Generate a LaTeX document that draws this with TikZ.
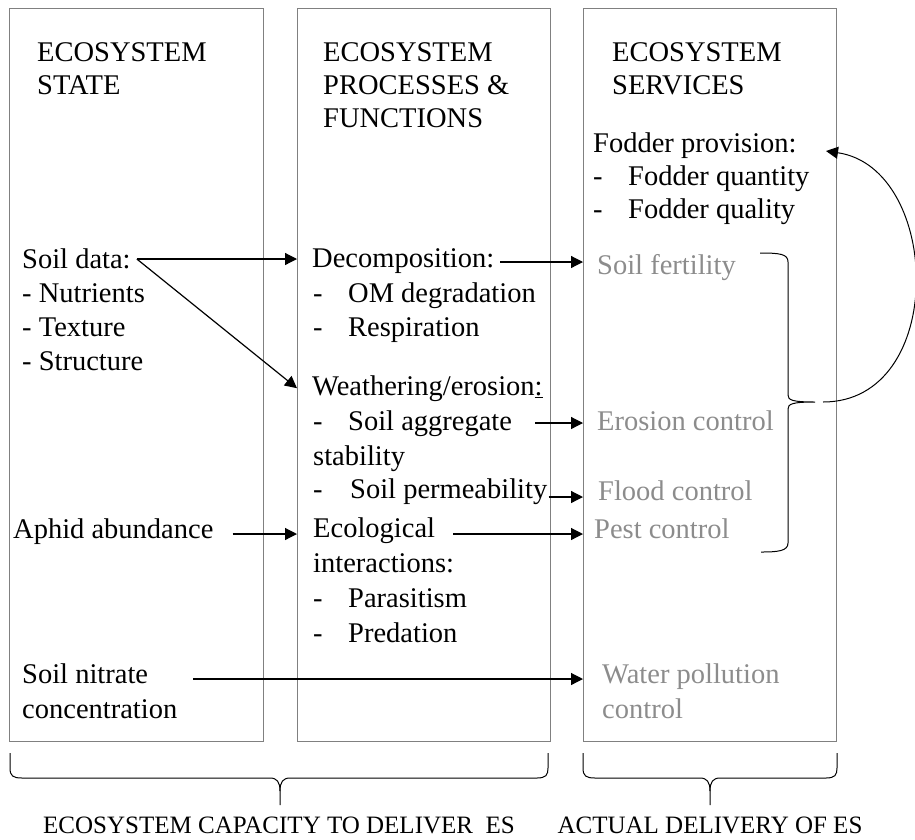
\documentclass[tikz,border=0pt]{standalone}
\usepackage{fontspec}
\setmainfont{Liberation Serif}
\usetikzlibrary{arrows.meta}
\definecolor{boxgray}{gray}{0.5}
\definecolor{esgray}{gray}{0.55}
\newcommand\dashitem[2][35pt]{\makebox[#1][l]{-}#2}

\begin{document}
\begin{tikzpicture}
[x=1pt,y=-1pt,>={Triangle[length=12pt,width=12pt]},
 panel/.style={draw=boxgray,line width=0.9pt,anchor=north west,inner sep=0pt,minimum width=#1,minimum height=733pt},
 txt/.style={anchor=base west,inner sep=0pt,font=\fontsize{28.5}{34}\selectfont},
 es/.style={txt,text=esgray},
 captext/.style={anchor=base,inner sep=0pt,font=\fontsize{25}{30}\selectfont},
 link/.style={->,line width=1.2pt},
 brace/.style={line width=1pt},]

\useasboundingbox (0,0) rectangle (915,839);

%Panels
\node[panel=254pt] (state) at (9,8) {};
\node[panel=253pt] (proc) at (297,8) {};
\node[panel=253pt] (serv) at (583,8) {};

%Ecosystem state
\node[txt] (st1) at (37,61) {ECOSYSTEM};
\node[txt] (st2) at (37,94) {STATE};
\node[txt] (sd) at (22,268) {Soil data:};
\node[txt] (sd1) at (22,302) {- Nutrients};
\node[txt] (sd2) at (22,336) {- Texture};
\node[txt] (sd3) at (22,370) {- Structure};
\node[txt] (aph) at (13,538) {Aphid abundance};
\node[txt] (nit) at (22,683) {Soil nitrate};
\node[txt] (nit2) at (22,718) {concentration};

%Processes and functions
\node[txt] (pf1) at (323,61) {ECOSYSTEM};
\node[txt] (pf2) at (323,94) {PROCESSES \&};
\node[txt] (pf3) at (323,127) {FUNCTIONS};
\node[txt] (dec) at (312,267) {Decomposition:};
\node[txt] (dec1) at (313,302) {\dashitem{OM degradation}};
\node[txt] (dec2) at (313,336) {\dashitem{Respiration}};
\node[txt] (wea) at (312,395) {Weathering/erosion\underline{:}};
\node[txt] (wea1) at (313,430) {\dashitem{Soil aggregate}};
\node[txt] (wea2) at (313,465) {stability};
\node[txt] (wea3) at (313,498) {\dashitem[37pt]{Soil permeability}};
\node[txt] (eco) at (313,537) {Ecological};
\node[txt] (eco1) at (313,572) {interactions:};
\node[txt] (eco2) at (313,607) {\dashitem{Parasitism}};
\node[txt] (eco3) at (313,642) {\dashitem{Predation}};

%Services
\node[txt] (sv1) at (612,61) {ECOSYSTEM};
\node[txt] (sv2) at (612,94) {SERVICES};
\node[txt] (fod) at (593,152) {Fodder provision:};
\node[txt] (fod1) at (593,185) {\dashitem{Fodder quantity}};
\node[txt] (fod2) at (593,218) {\dashitem{Fodder quality}};
\node[es] (fert) at (597,274) {Soil fertility};
\node[es] (ero) at (597,430) {Erosion control};
\node[es] (flo) at (598,500) {Flood control};
\node[es] (pest) at (594,538) {Pest control};
\node[es] (wat) at (602,683) {Water pollution};
\node[es] (wat2) at (602,718) {control};

%Captions
\node[captext] (capA) at (279,833) {ECOSYSTEM CAPACITY TO DELIVER\ \ ES};
\node[captext] (capB) at (710,833) {ACTUAL DELIVERY OF ES};

%Arrow starts
\coordinate (sdout) at ([shift={(6,-9)}]sd.base east);
\coordinate (decout) at ([shift={(6,-5)}]dec.base east);
\coordinate (weaout) at ([shift={(23,-7)}]wea1.base east);
\coordinate (permout) at ([shift={(1,-1)}]wea3.base east);
\coordinate (aphout) at ([shift={(19,-4)}]aph.base east);
\coordinate (ecoout) at ([shift={(18,-3)}]eco.base east);
\coordinate (nitout) at ([shift={(45,-4)}]nit.base east);

%Drawing arrows
\draw[link] (sdout) -- (sdout -| proc.west);
\draw[link] (sdout) -- (proc.west |- wea.west);
\draw[link] (decout) -- (decout -| serv.west);
\draw[link] (weaout) -- (weaout -| serv.west);
\draw[link] (permout) -- (permout -| serv.west);
\draw[link] (aphout) -- (aphout -| proc.west);
\draw[link] (ecoout) -- (ecoout -| serv.west);
\draw[link] (nitout) -- (nitout -| serv.west);

%Bracket of regulating services
\coordinate (bracetip) at (815,402);
\draw[brace] (760,253) .. controls (780,253) and (788,254) .. (788,262) -- (788,395)
  .. controls (788,400) and (792,402) .. (bracetip)
  .. controls (792,402) and (788,404) .. (788,409) -- (788,543)
  .. controls (788,551) and (778,552) .. (761,552);

%Feedback to fodder provision
\coordinate (loopstart) at ([xshift=8pt]bracetip);
\coordinate (fodin) at (826,151);
\draw[link,line width=1pt] (loopstart) .. controls (948,402) and (942,168) .. (fodin);

%Bottom braces
\draw[brace] (10,753) -- (10,768) .. controls (10,776) and (13,778) .. (22,778) -- (270,778)
  .. controls (277,778) and (280,782) .. (280,791) -- (280,805);
\draw[brace] (280,791) .. controls (280,782) and (283,778) .. (290,778) -- (537,778)
  .. controls (546,778) and (548,775) .. (548,768) -- (548,753);
\draw[brace] (583,753) -- (583,768) .. controls (583,776) and (586,778) .. (595,778) -- (700,778)
  .. controls (707,778) and (710,782) .. (710,791) -- (710,805);
\draw[brace] (710,791) .. controls (710,782) and (713,778) .. (720,778) -- (826,778)
  .. controls (835,778) and (837,775) .. (837,768) -- (837,753);

\end{tikzpicture}
\end{document}
